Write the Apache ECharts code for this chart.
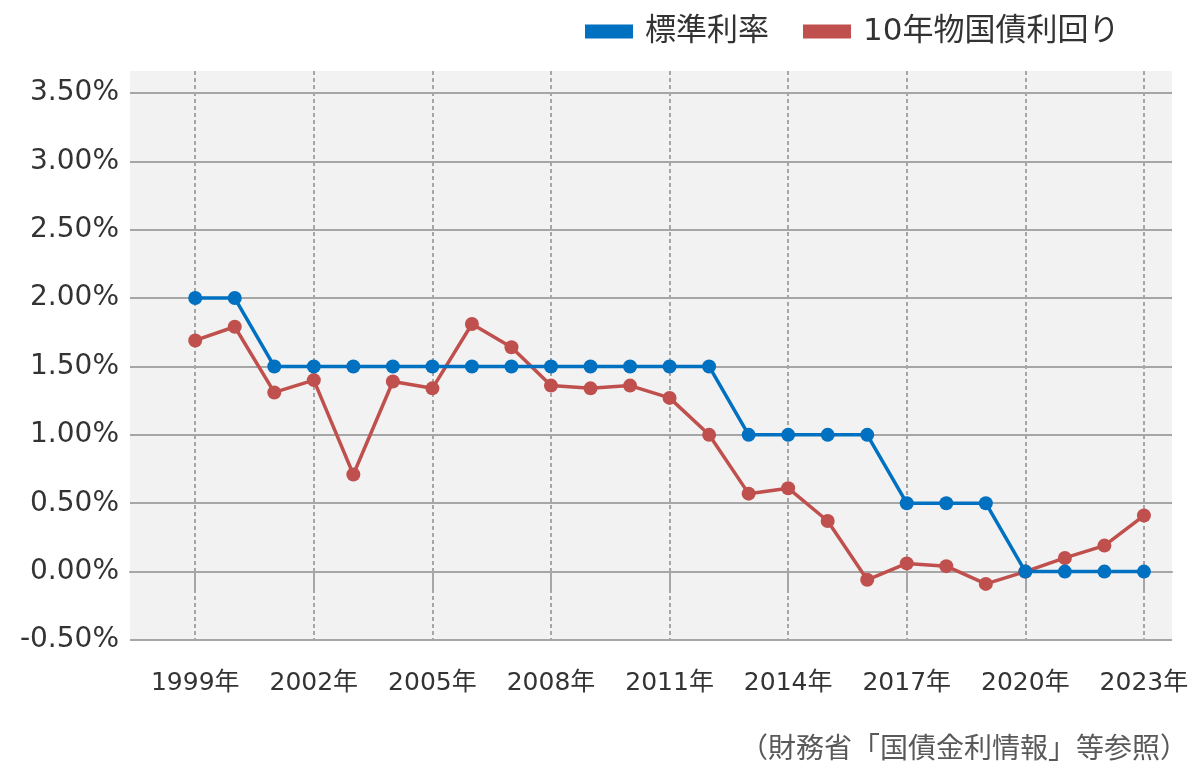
<!DOCTYPE html>
<html>
<head>
<meta charset="utf-8">
<script src="https://cdn.jsdelivr.net/npm/echarts@6/dist/echarts.min.js"></script>
<style>
html,body{margin:0;padding:0;background:#ffffff;}
#chart{width:1200px;height:780px;}
</style>
</head>
<body>
<div id="chart"></div>
<script>
// ---- data ----
const years = [1999,2000,2001,2002,2003,2004,2005,2006,2007,2008,2009,2010,2011,2012,2013,2014,2015,2016,2017,2018,2019,2020,2021,2022,2023];
const tickYears = [1999,2002,2005,2008,2011,2014,2017,2020,2023];
const standardRate = [2.00,2.00,1.50,1.50,1.50,1.50,1.50,1.50,1.50,1.50,1.50,1.50,1.50,1.50,1.00,1.00,1.00,1.00,0.50,0.50,0.50,0.00,0.00,0.00,0.00];
const jgb10y = [1.69,1.79,1.31,1.40,0.71,1.39,1.34,1.81,1.64,1.36,1.34,1.36,1.27,1.00,0.57,0.61,0.37,-0.06,0.06,0.04,-0.09,0.00,0.10,0.19,0.41];
const seriesNames = ['標準利率','10年物国債利回り'];
const sourceNote = '（財務省「国債金利情報」等参照）';

const FONT = "'DejaVu Sans','Noto Sans CJK JP',sans-serif";
const GRID_COLOR = '#a6a6a6';

const chart = echarts.init(document.getElementById('chart'), null, {renderer:'canvas'});

const toPairs = vals => years.map((y,i)=>[y, vals[i]]);

chart.setOption({
  animation:false,
  backgroundColor:'#ffffff',
  textStyle:{fontFamily:FONT},
  legend:{
    data:seriesNames,
    left:585, top:16, padding:0,
    icon:'rect', itemWidth:48, itemHeight:14, itemGap:34,
    textStyle:{fontSize:31, color:'#333333', fontFamily:FONT, padding:[0,0,0,7]}
  },
  grid:{left:130, right:28, top:71, bottom:140, show:true, backgroundColor:'#f2f2f2', borderWidth:0},
  xAxis:[{
    type:'value', min:1997.35, max:2023.71,
    axisLine:{show:true, lineStyle:{color:GRID_COLOR, width:2}},
    axisTick:{show:true, customValues:tickYears, length:19, lineStyle:{color:GRID_COLOR, width:2, type:[4,3]}},
    axisLabel:{customValues:tickYears, formatter:v=>Math.round(v)+'年', fontSize:25, color:'#333333', margin:31, fontFamily:FONT},
    splitLine:{show:true, customValues:tickYears, lineStyle:{color:GRID_COLOR, width:2, type:[4,3]}}
  }],
  yAxis:{
    type:'value', min:-0.5, max:3.66, interval:0.5,
    axisLine:{show:false}, axisTick:{show:false},
    axisLabel:{formatter:v=>v.toFixed(2)+'%', fontSize:28, color:'#333333', margin:11, showMaxLabel:false, fontFamily:FONT},
    splitLine:{show:true, showMaxLine:false, lineStyle:{color:GRID_COLOR, width:2}}
  },
  series:[
    {name:seriesNames[0], type:'line', data:toPairs(standardRate), color:'#0070c0',
     symbol:'circle', symbolSize:14, lineStyle:{width:3.5}, z:3},
    {name:seriesNames[1], type:'line', data:toPairs(jgb10y), color:'#c0504d',
     symbol:'circle', symbolSize:14, lineStyle:{width:3.5}, z:2}
  ],
  graphic:[{
    type:'text', right:12, top:737,
    style:{text:sourceNote, font:'28px '+FONT, fill:'#595959'}
  }]
});
</script>
</body>
</html>
